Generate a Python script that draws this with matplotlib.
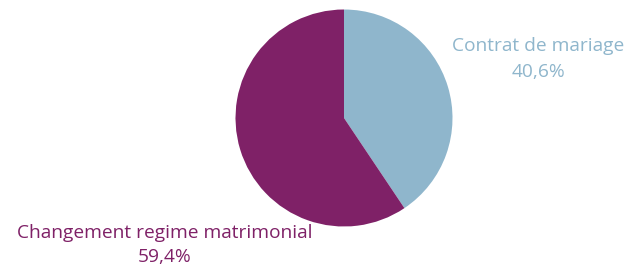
import matplotlib
matplotlib.use("Agg")
import matplotlib.pyplot as plt

categories = ["Contrat de mariage", "Changement regime matrimonial"]
values = [40.6, 59.4]
value_labels = ["40,6%", "59,4%"]
colors = ["#8fb6cc", "#7f2167"]

W, H = 635, 267
fig = plt.figure(figsize=(W / 100, H / 100), dpi=100)
ax = fig.add_axes([0, 0, 1, 1])

cx, cy, r = 344, H - 118, 108.5
ax.pie(values, colors=colors, startangle=90, counterclock=False,
       center=(cx, cy), radius=r, frame=True,
       wedgeprops=dict(linewidth=0))
ax.set_xlim(0, W)
ax.set_ylim(0, H)
ax.axis("off")

font = "Open Sans"
fs = 13.8
ax.text(538, H - 46, categories[0], ha="center", va="center", color=colors[0],
        fontsize=fs, family=font)
ax.text(538, H - 72, value_labels[0], ha="center", va="center", color=colors[0],
        fontsize=fs, family=font)
ax.text(165, H - 233, categories[1], ha="center", va="center", color=colors[1],
        fontsize=fs, family=font)
ax.text(165, H - 257, value_labels[1], ha="center", va="center", color=colors[1],
        fontsize=fs, family=font)

fig.savefig("out.png", dpi=100)
